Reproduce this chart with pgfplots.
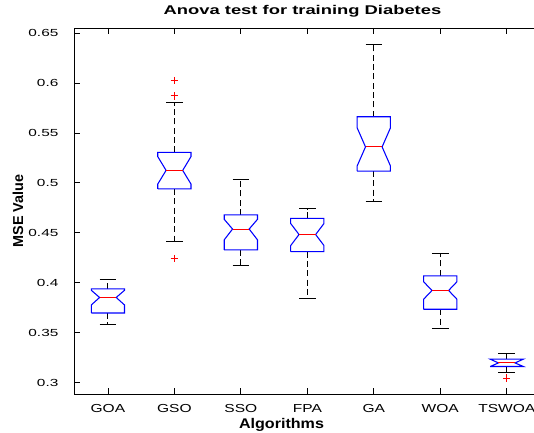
\documentclass[border=0pt]{standalone}
\usepackage{pgfplots}
\pgfplotsset{compat=1.18}
\usepackage{fontspec}
\setmainfont{Liberation Sans}
\newfontfamily\yticfont[FakeStretch=1.5]{Liberation Sans}
\newfontfamily\xticfont[FakeStretch=1.34]{Liberation Sans}
\newfontfamily\titlefont[FakeStretch=1.45]{Liberation Sans}
\newfontfamily\xlabfont[FakeStretch=1.15]{Liberation Sans}

\pgfplotsset{
  nbox/.style={blue, line width=0.8pt, line join=miter, mark=none},
  nmed/.style={red, line width=0.8pt, mark=none},
  nwhisk/.style={black, line width=0.7pt, dash pattern=on 4.5pt off 2.5pt, mark=none},
  ncap/.style={black, line width=0.7pt, mark=none},
  nout/.style={red, only marks, mark=+, mark size=2.8pt, mark options={line width=0.7pt, solid}},
}

% notched box: #1 position, #2 lower whisker, #3 Q1, #4 notch low,
% #5 median, #6 notch high, #7 Q3, #8 upper whisker
\newcommand\notchbox[8]{%
  \pgfmathsetmacro\bl{#1-0.25}\pgfmathsetmacro\br{#1+0.25}%
  \pgfmathsetmacro\nl{#1-0.125}\pgfmathsetmacro\nr{#1+0.125}%
  \edef\temp{%
    \noexpand\addplot[nwhisk] coordinates {(#1,#7) (#1,#8)};
    \noexpand\addplot[nwhisk] coordinates {(#1,#3) (#1,#2)};
    \noexpand\addplot[ncap] coordinates {(\nl,#8) (\nr,#8)};
    \noexpand\addplot[ncap] coordinates {(\nl,#2) (\nr,#2)};
    \noexpand\addplot[nbox] coordinates {(\bl,#3) (\bl,#4) (\nl,#5) (\bl,#6) (\bl,#7) (\br,#7) (\br,#6) (\nr,#5) (\br,#4) (\br,#3) (\bl,#3)};
    \noexpand\addplot[nmed] coordinates {(\nl,#5) (\nr,#5)};
  }\temp}

\begin{document}
\begin{tikzpicture}
\begin{axis}[
  name=ax,
  scale only axis, width=349pt, height=274.5pt,
  xmin=0.5, xmax=7.5, ymin=0.2887, ymax=0.655,
  xtick={1,2,3,4,5,6,7},
  xticklabels={GOA,GSO,SSO,FPA,GA,WOA,TSWOA},
  ytick={0.3,0.35,0.4,0.45,0.5,0.55,0.6,0.65},
  minor tick num=0,
  tick align=inside, major tick length=4.3pt,
  tick style={black, line width=0.6pt},
  axis line style={black, line width=0.6pt},
  /pgf/number format/assume math mode=true,
  /pgf/number format/fixed, /pgf/number format/precision=2,
  yticklabel style={font=\yticfont\fontsize{7.7}{9}\selectfont, inner sep=0pt, anchor=east, xshift=-12pt},
  xticklabel style={font=\xticfont\fontsize{8.7}{10}\selectfont, inner sep=0pt, anchor=base, yshift=-14pt},
  title={Anova test for training Diabetes},
  title style={at={(axis description cs:0.4896,1)}, anchor=base, yshift=4.3pt, inner sep=0pt,
    font=\titlefont\bfseries\fontsize{9.5}{11}\selectfont},
  xlabel={Algorithms},
  xlabel style={at={(axis description cs:0.4445,0)}, anchor=base, yshift=-25.7pt, inner sep=0pt,
    font=\xlabfont\bfseries\fontsize{10.5}{12}\selectfont},
  ylabel={MSE Value},
  ylabel style={at={(axis description cs:-0.1105,0.5)}, anchor=base, inner sep=0pt,
    font=\bfseries\fontsize{10.8}{12}\selectfont},
]
\notchbox{1}{0.3587}{0.3698}{0.3778}{0.3853}{0.3925}{0.3940}{0.4037}
\notchbox{2}{0.4410}{0.4940}{0.4988}{0.5125}{0.5263}{0.5306}{0.5803}
\notchbox{3}{0.4175}{0.4329}{0.4430}{0.4538}{0.4635}{0.4679}{0.5031}
\notchbox{4}{0.3846}{0.4312}{0.4373}{0.4483}{0.4593}{0.4645}{0.4742}
\notchbox{5}{0.4813}{0.5118}{0.5170}{0.5360}{0.5550}{0.5662}{0.6390}
\notchbox{6}{0.3540}{0.3735}{0.3836}{0.3923}{0.4010}{0.4070}{0.4292}
\notchbox{7}{0.3098}{0.3162}{0.3162}{0.3198}{0.3236}{0.3236}{0.3289}
% outliers
\addplot[nout] coordinates {(2,0.6024) (2,0.5870) (2,0.4242) (7,0.3047)};
\end{axis}
\pgfresetboundingbox
\useasboundingbox ([xshift=-56pt,yshift=-28.5pt]ax.south west) rectangle ([xshift=-4.5pt,yshift=21pt]ax.north east);
\end{tikzpicture}
\end{document}
